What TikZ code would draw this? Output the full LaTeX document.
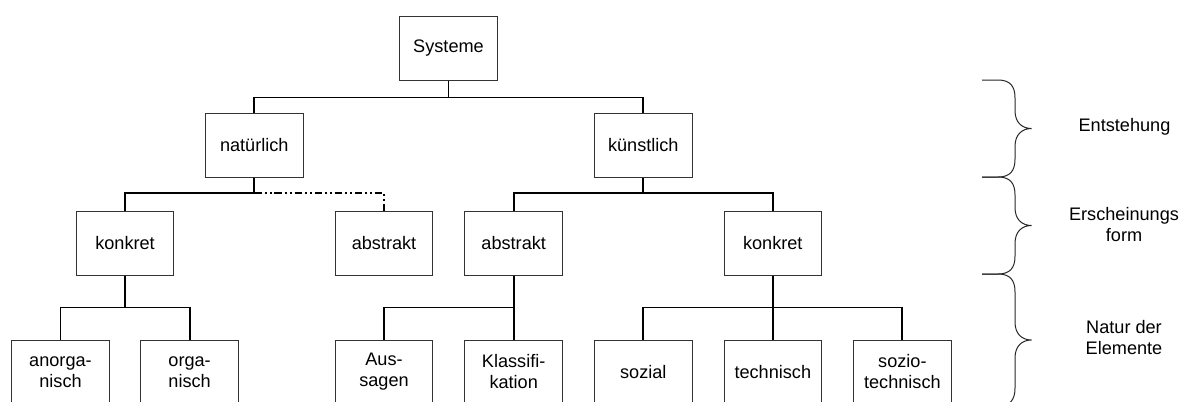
\documentclass[tikz,border=0pt]{standalone}
\usepackage{fontspec}
\setmainfont{Liberation Sans}
\usetikzlibrary{calc}
\begin{document}
\begin{tikzpicture}[x=0.75pt,y=-0.75pt,
  box/.style={draw=black!80,line width=0.75pt,rectangle,minimum width=73.1pt,minimum height=48pt,inner sep=0pt,align=center,font=\fontsize{13.6}{15.75}\selectfont},
  conn/.style={draw=black,line width=1.4pt},
  dashconn/.style={draw=black,line width=1.2pt,dash pattern=on 5.5pt off 2.2pt on 1.5pt off 2.2pt on 1.5pt off 2.2pt},
  bracelabel/.style={align=center,font=\fontsize{13.6}{15.75}\selectfont,inner sep=0pt},
  bracepath/.style={draw=black!85,line width=0.75pt}]
\useasboundingbox (0,0) rectangle (1187,401);
% nodes
\node[box] (sys) at (448.5,48) {Systeme};
\node[box] (nat) at (254.3,145.5) {natürlich};
\node[box] (kue) at (643.3,145.5) {künstlich};
\node[box] (k1) at (125,243) {konkret};
\node[box] (a1) at (384,243) {abstrakt};
\node[box] (a2) at (513.7,243) {abstrakt};
\node[box] (k2) at (772.8,243) {konkret};
\node[box] (an) at (60.5,372) {anorga-\\nisch};
\node[box] (or) at (189.6,372) {orga-\\nisch};
\node[box] (au) at (384,372) {Aus-\\sagen};
\node[box] (kl) at (513.7,372) {Klassifi-\\kation};
\node[box] (so) at (643.3,372) {sozial};
\node[box] (te) at (772.8,372) {technisch};
\node[box] (st) at (902.4,372) {sozio-\\technisch};
% connectors level 1
\coordinate (j0) at ($(sys.south)+(0,17)$);
\draw[conn] (sys.south) -- (j0);
\draw[conn] (nat.north) |- (j0) -| (kue.north);
% level 2
\coordinate (j1) at ($(nat.south)+(0,15)$);
\draw[conn] (nat.south) -- (j1) -| (k1.north);
\draw[dashconn] (j1) -| (a1.north);
\coordinate (j2) at ($(kue.south)+(0,15)$);
\draw[conn] (kue.south) -- (j2);
\draw[conn] (a2.north) |- (j2) -| (k2.north);
% level 3
\coordinate (j3) at ($(k1.south)+(0,32)$);
\draw[conn] (k1.south) -- (j3);
\draw[conn] (an.north) |- (j3) -| (or.north);
\coordinate (j4) at ($(a2.south)+(0,32)$);
\draw[conn] (a2.south) -- (kl.north);
\draw[conn] (j4) -| (au.north);
\coordinate (j5) at ($(k2.south)+(0,32)$);
\draw[conn] (k2.south) -- (te.north);
\draw[conn] (so.north) |- (j5) -| (st.north);
% braces
\foreach \ya/\yb in {80/177, 177/274, 274/406}{
  \pgfmathsetmacro{\ym}{(\ya+\yb)/2}
  \draw[bracepath] (982,\ya) -- (998,\ya) .. controls (1010,\ya) and (1015,\ya+6) .. (1015,\ya+18)
    -- (1015,\ym-18) .. controls (1015,\ym-6) and (1022,\ym) .. (1031.5,\ym)
    .. controls (1022,\ym) and (1015,\ym+6) .. (1015,\ym+18)
    -- (1015,\yb-18) .. controls (1015,\yb-6) and (1010,\yb) .. (998,\yb) -- (982,\yb);
}
\node[bracelabel] (l1) at (1124.5,127) {Entstehung};
\node[bracelabel] (l2) at (1124,225) {Erscheinungs\\form};
\node[bracelabel] (l3) at (1124,338) {Natur der\\Elemente};
\end{tikzpicture}
\end{document}
